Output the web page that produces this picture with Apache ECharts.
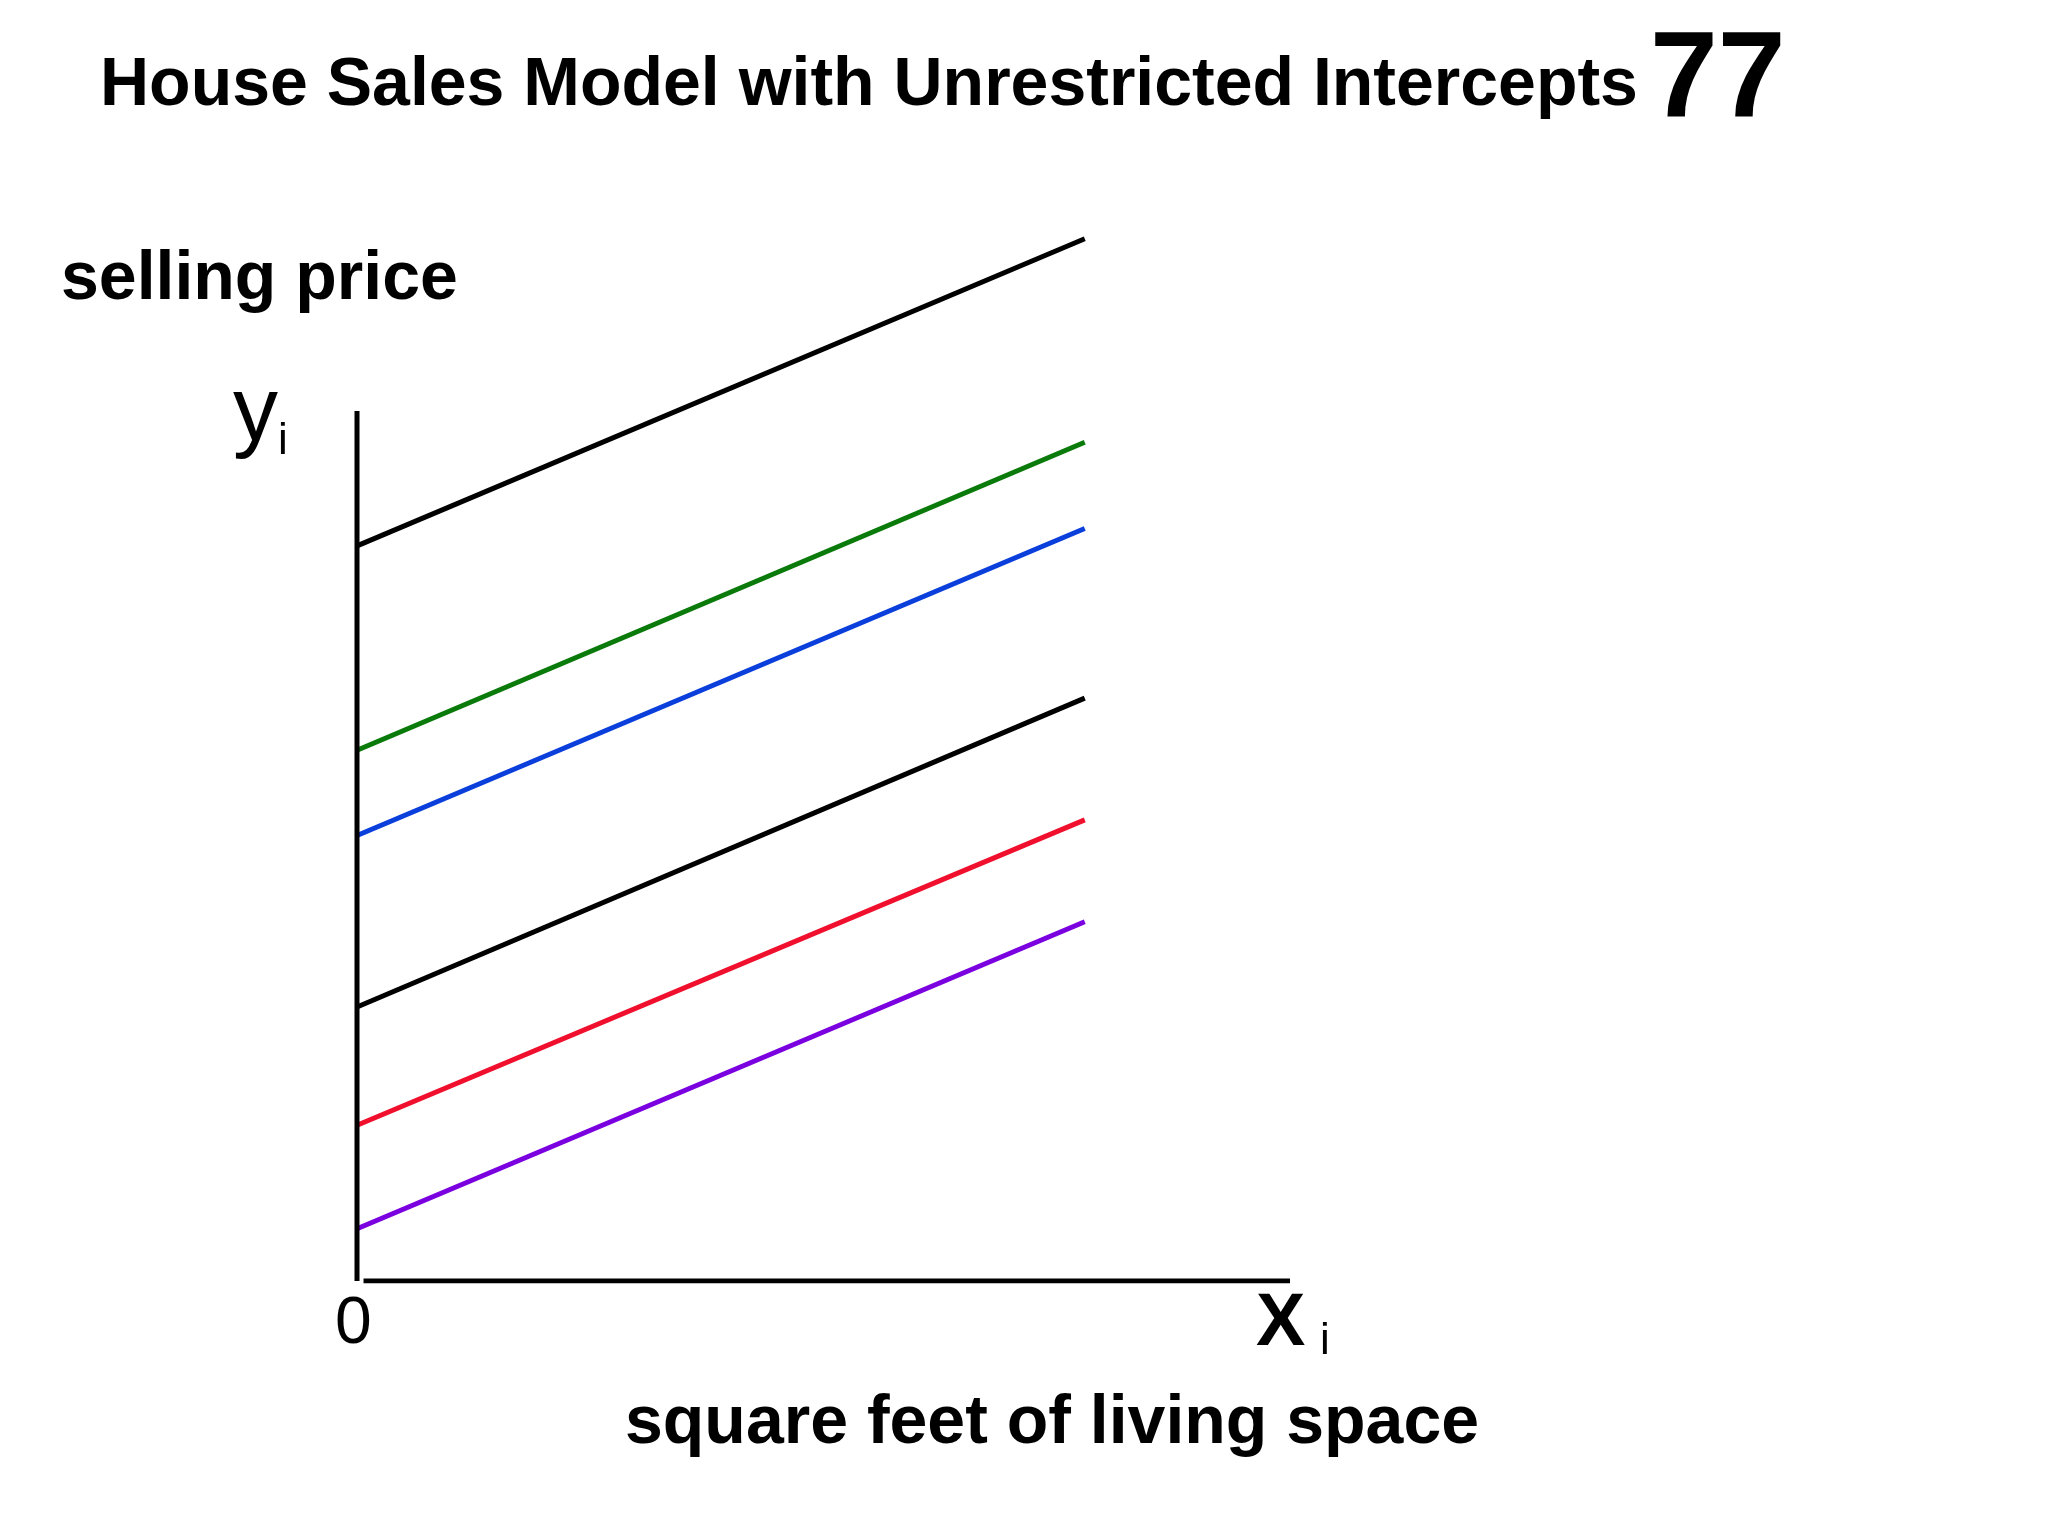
<!DOCTYPE html>
<html><head><meta charset="utf-8">
<script src="https://cdn.jsdelivr.net/npm/echarts@6/dist/echarts.min.js"></script>
<style>html,body{margin:0;padding:0;background:#fff}#c{width:2048px;height:1536px}</style>
</head><body><div id="c"></div>
<script>
const names = ['D3-A2','D3-A1','D2-A2','D2-A1','D1-A2','D1-A1'];
const descs = ['(three bed, two bath)','(three bed, one bath)','(two bed, two bath)','(two bed, one bath)','(one bed, two bath)','(one bed,one bath)'];
const startY = [84.5, 61.0, 51.2, 31.5, 17.9, 6.0];
const endY = [119.8, 96.4, 86.5, 67.0, 53.0, 41.3];
const xStart = 0, xEnd = 78;
const colorsFix = ['#000000','#0a7a0a','#0a3fdc','#000000','#f0102e','#7a00e0'];
const intercepts = {2:['b','1','+b','5'],3:['b','1','+b','4'],4:['b','1','+b','3'],5:['b','1','','']};
const interceptSize = {2:54,3:64,4:64,5:58};

const series = names.map((n,i)=>{
  const c = colorsFix[i];
  const first = {value:[xStart,startY[i]]};
  if (intercepts[i]) {
    const p = intercepts[i], fs = interceptSize[i];
    const subSerif = i!==5;
    first.label = {show:true, position:'left', distance:22,
      formatter: p[2] ? `{m|${p[0]}}{s|${p[1]}}{m|${p[2]}}{s|${p[3]}}` : `{m|${p[0]}}{s|${p[1]}}`,
      rich:{m:{fontFamily:'Liberation Sans',fontWeight:'bold',fontSize:fs,color:c},
            s:{fontFamily:subSerif?'Liberation Serif':'Liberation Sans',fontWeight:subSerif?'normal':'bold',fontSize:fs*0.62,color:c,padding:[fs*0.45,0,0,0]}}};
  }
  const last = {value:[xEnd,endY[i]], label:{show:true, position:'right', distance:4,
    formatter:`${n}  ${descs[i]}`, fontFamily:'Liberation Sans', fontWeight:'bold', fontSize:66, color:c}};
  return {type:'line', data:[first,last], symbol:'circle', symbolSize:1, showSymbol:true,
    itemStyle:{color:c, opacity:0}, lineStyle:{color:c,width:5}, silent:true, animation:false,
    label:{show:false}, labelLayout:{hideOverlap:false}};
});
series.push({type:'line',data:[[0,0],[0,100]],symbol:'none',lineStyle:{color:'#000',width:5},animation:false,silent:true});
series.push({type:'line',data:[[0.7,0],[100,0]],symbol:'none',lineStyle:{color:'#000',width:5},animation:false,silent:true});

const chart = echarts.init(document.getElementById('c'));
chart.setOption({
  backgroundColor:'#fff',
  grid:{left:357,top:150,width:933,height:1131},
  xAxis:{type:'value',min:0,max:100,show:false},
  yAxis:{type:'value',min:0,max:130,show:false},
  graphic:[
    {type:'text',left:100,top:52,style:{text:'House Sales Model with Unrestricted Intercepts',font:'bold 68px "Liberation Sans"',fill:'#000'}},
    {type:'text',left:1650,top:22,style:{text:'77',font:'bold 122px "Liberation Sans"',fill:'#000'}},
    {type:'text',left:61,top:246,style:{text:'selling price',font:'bold 68px "Liberation Sans"',fill:'#000'}},
    {type:'text',left:233,top:370,style:{text:'y',font:'90px "Liberation Sans"',fill:'#000'}},
    {type:'text',left:278,top:420,style:{text:'i',font:'44px "Liberation Sans"',fill:'#000'}},
    {type:'text',left:335,top:1292,style:{text:'0',font:'66px "Liberation Sans"',fill:'#000'}},
    {type:'text',left:1256,top:1288,style:{text:'X',font:'bold 74px "Liberation Sans"',fill:'#000'}},
    {type:'text',left:1320,top:1320,style:{text:'i',font:'44px "Liberation Sans"',fill:'#000'}},
    {type:'text',left:625,top:1390,style:{text:'square feet of living space',font:'bold 68px "Liberation Sans"',fill:'#000'}}
  ],
  series
});
</script></body></html>
